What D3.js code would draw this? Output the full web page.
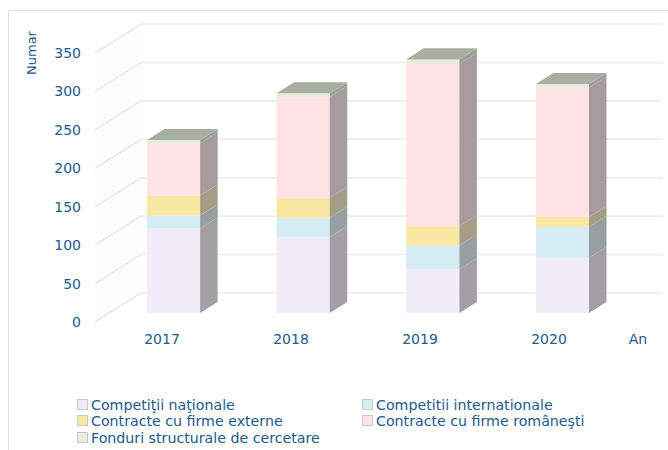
<!DOCTYPE html>
<html>
<head>
<meta charset="utf-8">
<script src="https://cdn.jsdelivr.net/npm/d3@7/dist/d3.min.js"></script>
<style>
  html, body { margin: 0; padding: 0; background: #fff; }
  svg { display: block; }
  text { font-family: "DejaVu Sans", sans-serif; fill: #215a8c; }
</style>
</head>
<body>
<svg id="chart" width="668" height="450"></svg>
<script>
// Projects by funding source, per year
const years = ["2017", "2018", "2019", "2020"];
const competitiiNationale = [110, 99, 57, 72];
const competitiiInternationale = [17, 25, 31, 40];
const contracteExterne = [26, 26, 25, 13];
const contracteRomanesti = [68, 131, 211, 168];
const fonduriStructurale = [4, 5, 6, 5];
const yTicks = [0, 50, 100, 150, 200, 250, 300, 350];

const seriesNames = [
  "Competiţii naţionale",
  "Competitii internationale",
  "Contracte cu firme externe",
  "Contracte cu firme româneşti",
  "Fonduri structurale de cercetare"
];
const seriesValues = [competitiiNationale, competitiiInternationale, contracteExterne, contracteRomanesti, fonduriStructurale];
const seriesColors = ["#f0edf8", "#d5edf2", "#f9e7a2", "#fde3e5", "#e6eddc"];

const svg = d3.select("#chart");

// chart frame
svg.append("rect")
  .attr("x", 8.5).attr("y", 10.5).attr("width", 680).attr("height", 460)
  .attr("fill", "none").attr("stroke", "#dedede");

// oblique 3D geometry: full floor depth and bar placement in depth
const wallDepth = { dx: 46, dy: -29 };
const barFront = 0.31, barBack = 0.69;
const wallLeft = 95, wallRight = 662;

// value scale on the front edge of the floor
const y = d3.scaleLinear().domain([0, 350]).range([322, 53]);

// bar front faces
const x = d3.scaleBand().domain(years).range([147, 589]).paddingInner(0.59).paddingOuter(0);
const xLabel = d3.scalePoint().domain(years).range([162, 549]);

// walls
const walls = svg.append("g");
walls.append("path")
  .attr("d", `M${wallLeft},${y(0)} L${wallLeft + wallDepth.dx},${y(0) + wallDepth.dy} L${wallLeft + wallDepth.dx},${y(350) + wallDepth.dy} L${wallLeft},${y(350)} Z`)
  .attr("fill", "#fcfcfc");

// gridlines: diagonal across the side wall, then along the back wall
walls.selectAll("path.grid")
  .data(yTicks)
  .join("path")
  .attr("class", "grid")
  .attr("d", v => `M${wallLeft},${y(v)} L${wallLeft + wallDepth.dx},${y(v) + wallDepth.dy} L${wallRight},${y(v) + wallDepth.dy}`)
  .attr("fill", "none")
  .attr("stroke", "#ebebeb")
  .attr("stroke-width", 1.6);

// stacked data
const stackData = years.map((yr, i) => {
  const o = { year: yr };
  seriesNames.forEach((n, k) => { o[n] = seriesValues[k][i]; });
  return o;
});
const stacked = d3.stack().keys(seriesNames)(stackData);

const depthDx = (barBack - barFront) * wallDepth.dx;
const depthDy = (barBack - barFront) * wallDepth.dy;
const frontDy = barFront * wallDepth.dy;
const yb = v => y(v) + frontDy;

// shaded side: darkened and pulled toward a neutral grey
const sideColor = c => d3.interpolateRgb(d3.color(c).darker(1.1), "#a19ea2")(0.45);

const bars = svg.append("g");
years.forEach((yr, i) => {
  const g = bars.append("g");
  const x0 = x(yr), w = x.bandwidth();
  stacked.forEach((layer, k) => {
    const d = layer[i];
    const top = yb(d[1]), bot = yb(d[0]);
    const col = seriesColors[k];
    // front face
    g.append("rect")
      .attr("x", x0).attr("y", top)
      .attr("width", w).attr("height", bot - top)
      .attr("fill", col);
    // right side face
    g.append("path")
      .attr("d", `M${x0 + w},${top} L${x0 + w + depthDx},${top + depthDy} L${x0 + w + depthDx},${bot + depthDy} L${x0 + w},${bot} Z`)
      .attr("fill", sideColor(col));
  });
  // top face
  const last = stacked[stacked.length - 1][i];
  const t = yb(last[1]);
  g.append("path")
    .attr("d", `M${x0},${t} L${x0 + depthDx},${t + depthDy} L${x0 + w + depthDx},${t + depthDy} L${x0 + w},${t} Z`)
    .attr("fill", "#a8aea1");
});

// value axis labels
svg.append("g").selectAll("text")
  .data(yTicks)
  .join("text")
  .attr("x", 81)
  .attr("y", v => y(v))
  .attr("dy", "0.36em")
  .attr("text-anchor", "end")
  .attr("font-size", 14)
  .text(v => v);

svg.append("text")
  .attr("transform", "translate(36,53) rotate(-90)")
  .attr("text-anchor", "middle")
  .attr("font-size", 13)
  .text("Numar");

// category labels
svg.append("g").selectAll("text")
  .data(years)
  .join("text")
  .attr("x", d => xLabel(d))
  .attr("y", 344)
  .attr("text-anchor", "middle")
  .attr("font-size", 14)
  .text(d => d);

svg.append("text")
  .attr("x", 638).attr("y", 344)
  .attr("text-anchor", "middle")
  .attr("font-size", 14)
  .text("An");

// legend
const legendPos = [[77, 405], [362, 405], [77, 421], [362, 421], [77, 438]];
const legend = svg.append("g").selectAll("g")
  .data(seriesNames)
  .join("g")
  .attr("transform", (d, k) => `translate(${legendPos[k][0]},${legendPos[k][1]})`);
legend.append("rect")
  .attr("x", 0.5).attr("y", -5.5).attr("width", 10).attr("height", 10)
  .attr("fill", (d, k) => seriesColors[k])
  .attr("stroke", "#c9c9c9");
legend.append("text")
  .attr("x", 14).attr("y", 0).attr("dy", "0.36em")
  .attr("font-size", 14.2)
  .text(d => d);
</script>
</body>
</html>
